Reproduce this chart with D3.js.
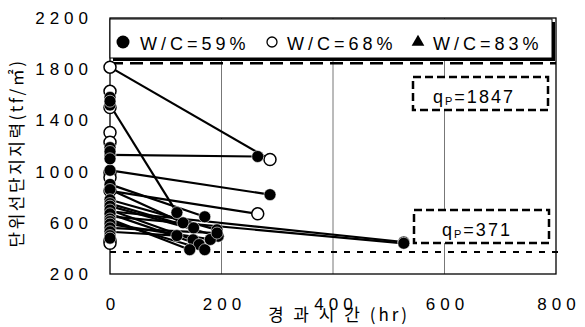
<!doctype html>
<html>
<head>
<meta charset="utf-8">
<style>
    body { margin: 0; background: #fff; }
    text { font-family: Arial, "Liberation Sans", sans-serif; fill: #000; }
    .kr { font-family: "Noto Sans CJK KR", sans-serif; }
    .conn { fill: none; stroke: #000; stroke-width: 2.2; }
</style>
<script src="https://d3js.org/d3.v7.min.js"></script>
</head>
<body>
<svg width="585" height="327"></svg>
<script>
// tick labels
var xTicks = [0, 200, 400, 600, 800],
    yTicks = [200, 600, 1000, 1400, 1800, 2200],
    xGrid = [200, 400, 600];

// W/C=59% : start value at 0 hr -> (elapsed hr, value)
var wc59Start = [1130, 1010, 690, 650, 900, 860, 780, 750, 730, 700, 670, 630, 610, 590, 560, 530, 1520],
    wc59Time  = [265, 287, 527, 527, 170, 131, 192, 150, 194, 149, 160, 143, 170, 180, 192, 120, 120],
    wc59End   = [1118, 820, 450, 440, 647, 600, 545, 560, 495, 467, 430, 390, 390, 470, 520, 500, 680],
    wc59Only  = [1580, 1550, 1188, 1157, 1100, 500, 480];

// W/C=68%
var wc68Start = [1816, 850],
    wc68Time  = [287, 265],
    wc68End   = [1094, 670],
    wc68Only  = [1627, 1500, 1306, 1230, 992, 953, 465, 440];

// W/C=83% (no points visible)
var wc83Start = [], wc83Time = [], wc83End = [];

var legendLabels = ["W/C=59%", "W/C=68%", "W/C=83%"];
var qpValues = [1847, 371];

var svg = d3.select("svg");

var x = d3.scaleLinear().domain([0, 800]).range([110, 556]),
    y = d3.scaleLinear().domain([200, 2200]).range([274, 18]);

// vertical grid
svg.selectAll(".grid")
   .data(xGrid)
   .enter().append("line")
   .attr("x1", function(d) { return x(d); })
   .attr("x2", function(d) { return x(d); })
   .attr("y1", y(2200)).attr("y2", y(200))
   .attr("stroke", "#777").attr("stroke-width", 1);

// frame
svg.append("rect")
   .attr("x", x(0)).attr("y", y(2200))
   .attr("width", x(800) - x(0)).attr("height", y(200) - y(2200))
   .attr("fill", "none").attr("stroke", "#000").attr("stroke-width", 1.3);

// axes
var yAxis = svg.append("g")
   .attr("transform", "translate(" + x(0) + ",0)")
   .call(d3.axisLeft(y).tickValues(yTicks).tickFormat(d3.format("d")).tickSize(0).tickPadding(17));
var xAxis = svg.append("g")
   .attr("transform", "translate(0," + y(200) + ")")
   .call(d3.axisBottom(x).tickValues(xTicks).tickFormat(d3.format("d")).tickSize(0).tickPadding(24));
[xAxis, yAxis].forEach(function(a) {
    a.select(".domain").remove();
    a.selectAll("text")
     .attr("font-family", "Arial, 'Liberation Sans', sans-serif")
     .attr("font-size", 17).attr("letter-spacing", 5).attr("fill", "#000");
});
xAxis.selectAll("text").attr("dx", 2.5);

// qp reference lines
svg.append("line")
   .attr("x1", x(0)).attr("x2", x(800)).attr("y1", y(qpValues[0])).attr("y2", y(qpValues[0]))
   .attr("stroke", "#000").attr("stroke-width", 2.5).attr("stroke-dasharray", "13,7");
svg.append("line")
   .attr("x1", x(0)).attr("x2", x(815)).attr("y1", y(qpValues[1])).attr("y2", y(qpValues[1]))
   .attr("stroke", "#000").attr("stroke-width", 2).attr("stroke-dasharray", "6,7");

// connecting lines
function pairs(s, t, e) {
    return s.map(function(v, i) { return [[0, v], [t[i], e[i]]]; });
}
var line = d3.line().x(function(d) { return x(d[0]); }).y(function(d) { return y(d[1]); });
var all59 = pairs(wc59Start, wc59Time, wc59End),
    all68 = pairs(wc68Start, wc68Time, wc68End),
    all83 = pairs(wc83Start, wc83Time, wc83End);

svg.selectAll(".conn")
   .data(all59.concat(all68).concat(all83))
   .enter().append("path")
   .attr("class", "conn")
   .attr("d", line);

// markers
function pts(list, only) {
    var p = [];
    list.forEach(function(d) { p.push(d[0], d[1]); });
    only.forEach(function(v) { p.push([0, v]); });
    return p;
}
svg.selectAll(".m68")
   .data(pts(all68, wc68Only))
   .enter().append("circle")
   .attr("cx", function(d) { return x(d[0]); })
   .attr("cy", function(d) { return y(d[1]); })
   .attr("r", 6).attr("fill", "#fff").attr("stroke", "#000").attr("stroke-width", 1.5);
svg.selectAll(".m59")
   .data(pts(all59, wc59Only))
   .enter().append("circle")
   .attr("cx", function(d) { return x(d[0]); })
   .attr("cy", function(d) { return y(d[1]); })
   .attr("r", 6).attr("fill", "#000").attr("stroke", "#fff").attr("stroke-width", 0.6);
svg.selectAll(".m83")
   .data(pts(all83, []))
   .enter().append("path")
   .attr("transform", function(d) { return "translate(" + x(d[0]) + "," + y(d[1]) + ")"; })
   .attr("d", d3.symbol(d3.symbolTriangle, 80));

// legend
var lg = svg.append("g");
lg.append("rect").attr("x", 113).attr("y", 22).attr("width", 442).attr("height", 39).attr("fill", "#000");
lg.append("rect").attr("x", 110).attr("y", 19).attr("width", 442).attr("height", 39)
  .attr("fill", "#fff").attr("stroke", "#000").attr("stroke-width", 1);
lg.append("circle").attr("cx", 123).attr("cy", 42).attr("r", 6.5).attr("fill", "#000");
lg.append("circle").attr("cx", 272).attr("cy", 42).attr("r", 5).attr("fill", "#fff")
  .attr("stroke", "#000").attr("stroke-width", 1.3);
lg.append("path").attr("transform", "translate(418,42)").attr("d", d3.symbol(d3.symbolTriangle, 70));
lg.selectAll(".lt")
  .data(legendLabels)
  .enter().append("text")
  .attr("x", function(d, i) { return [140, 287, 433][i]; })
  .attr("y", 50)
  .attr("font-size", 18).attr("letter-spacing", 4)
  .text(function(d) { return d; });

// qp annotation boxes
var boxes = svg.selectAll(".qp")
   .data(qpValues)
   .enter().append("g")
   .attr("transform", function(d, i) { return "translate(" + [413, 414][i] + "," + [77, 210][i] + ")"; });
boxes.append("rect")
   .attr("width", 135).attr("height", 33)
   .attr("fill", "#fff").attr("stroke", "#000").attr("stroke-width", 2.5).attr("stroke-dasharray", "8,4");
var qt = boxes.append("text")
   .attr("x", function(d, i) { return [20, 28][i]; }).attr("y", 26)
   .attr("font-size", 18).attr("letter-spacing", 2);
qt.append("tspan").text("q");
qt.append("tspan").attr("font-size", 11).attr("dy", 2).text("P");
qt.append("tspan").attr("dy", -2).text(function(d) { return "=" + d; });

// axis titles
svg.append("text").attr("class", "kr")
   .attr("x", 339).attr("y", 321).attr("text-anchor", "middle")
   .attr("font-size", 17).attr("letter-spacing", 3)
   .text("경 과 시 간 (hr)");
svg.append("text").attr("class", "kr")
   .attr("transform", "translate(23,153) rotate(-90)")
   .attr("text-anchor", "middle")
   .attr("font-size", 17).attr("letter-spacing", 2.5)
   .text("단위선단지지력(tf/㎡)");
</script>
</body>
</html>
